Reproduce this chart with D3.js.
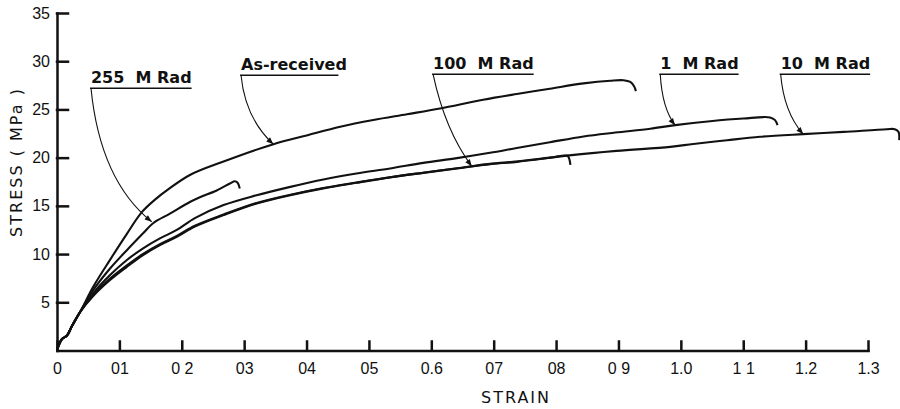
<!DOCTYPE html>
<html>
<head>
<meta charset="utf-8">
<script src="https://cdn.jsdelivr.net/npm/d3@7"></script>
<style>
  body { margin: 0; background: #fff; }
  svg { display: block; font-family: "DejaVu Sans", sans-serif; }
  .axis path, .axis line { stroke: #111; stroke-width: 2.5; stroke-linecap: square; }
  .axis text { font-size: 16px; fill: #111; }
  .curve { fill: none; stroke: #111; stroke-width: 2.1; stroke-linejoin: round; }
  .leader { fill: none; stroke: #111; stroke-width: 1.1; }
  .underline { stroke: #111; stroke-width: 1.4; }
  .note { font-size: 16px; font-weight: bold; fill: #111; }
  .title { font-size: 16px; fill: #111; letter-spacing: 2px; }
</style>
</head>
<body>
<div id="chart"></div>
<script>
// tick labels as printed on the figure
const xTickValues = [0, 0.1, 0.2, 0.3, 0.4, 0.5, 0.6, 0.7, 0.8, 0.9, 1.0, 1.1, 1.2, 1.3],
      xTickLabels = ["0", "01", "0 2", "03", "04", "05", "0.6", "07", "08", "0 9", "1.0", "1 1", "1.2", "1.3"],
      yTickValues = [5, 10, 15, 20, 25, 30, 35];

const strainAsReceived = [0, 0.0024, 0.008, 0.016, 0.024, 0.037, 0.058, 0.085, 0.112, 0.136, 0.160, 0.176, 0.213, 0.267, 0.347, 0.400, 0.454, 0.507, 0.561, 0.614, 0.683, 0.737, 0.790, 0.844, 0.887, 0.908, 0.919, 0.925, 0.928],
      stressAsReceived = [0, 0.47, 1.19, 1.55, 2.54, 3.99, 6.6, 9.4, 12.1, 14.35, 15.8, 16.6, 18.2, 19.6, 21.4, 22.3, 23.2, 23.9, 24.5, 25.1, 26.0, 26.6, 27.15, 27.7, 27.98, 28.03, 27.85, 27.4, 26.9];

const strain255 = [0, 0.0024, 0.008, 0.016, 0.024, 0.037, 0.058, 0.085, 0.112, 0.138, 0.154, 0.181, 0.213, 0.229, 0.256, 0.278, 0.285, 0.2895, 0.293],
      stress255 = [0, 0.47, 1.19, 1.55, 2.54, 3.99, 6.25, 8.5, 10.4, 12.15, 13.2, 14.2, 15.4, 15.9, 16.6, 17.35, 17.55, 17.4, 16.8];

const strain1 = [0, 0.0024, 0.008, 0.016, 0.024, 0.037, 0.058, 0.085, 0.112, 0.138, 0.165, 0.192, 0.221, 0.267, 0.320, 0.374, 0.427, 0.480, 0.534, 0.587, 0.641, 0.694, 0.737, 0.790, 0.844, 0.895, 0.951, 0.991, 1.047, 1.100, 1.143, 1.151, 1.155],
      stress1 = [0, 0.47, 1.19, 1.55, 2.54, 3.99, 5.93, 7.82, 9.38, 10.6, 11.63, 12.5, 13.73, 15.08, 16.1, 16.97, 17.74, 18.36, 18.88, 19.46, 19.95, 20.5, 21.0, 21.6, 22.2, 22.6, 23.0, 23.37, 23.78, 24.06, 24.17, 23.89, 23.37];

const strain10 = [0, 0.0024, 0.008, 0.016, 0.024, 0.037, 0.058, 0.085, 0.112, 0.138, 0.165, 0.192, 0.221, 0.267, 0.320, 0.374, 0.427, 0.480, 0.534, 0.587, 0.641, 0.694, 0.737, 0.825, 0.897, 0.983, 1.020, 1.074, 1.127, 1.196, 1.261, 1.330, 1.343, 1.349, 1.350],
      stress10 = [0, 0.47, 1.19, 1.55, 2.54, 3.99, 5.65, 7.31, 8.68, 9.9, 10.93, 11.79, 12.85, 14.04, 15.25, 16.11, 16.81, 17.39, 17.95, 18.42, 18.88, 19.33, 19.56, 20.26, 20.7, 21.12, 21.42, 21.81, 22.16, 22.44, 22.67, 22.95, 22.95, 22.67, 21.81];

const strain100 = [0, 0.0024, 0.008, 0.016, 0.024, 0.037, 0.058, 0.085, 0.112, 0.138, 0.165, 0.192, 0.221, 0.267, 0.320, 0.374, 0.427, 0.480, 0.534, 0.587, 0.641, 0.694, 0.737, 0.790, 0.818, 0.821, 0.823],
      stress100 = [0, 0.47, 1.19, 1.55, 2.54, 3.99, 5.75, 7.45, 8.82, 10.02, 11.03, 11.88, 12.93, 14.1, 15.3, 16.15, 16.85, 17.42, 17.97, 18.44, 18.9, 19.35, 19.6, 20.0, 20.2, 19.9, 19.25];

class StressStrainChart {
  constructor (options) {
    this.el = options.el;
    this.width = options.width;
    this.height = options.height;
    this.series = options.series;
    this.notes = options.notes;
    this.margin = options.margin || { top: 13, right: 32, bottom: 58.5, left: 57 };
  }

  draw () {
    this.svg = d3.select(this.el).append('svg')
      .attr('width', this.width)
      .attr('height', this.height);

    this.svg.append('defs').append('marker')
      .attr('id', 'arrow')
      .attr('viewBox', '0 0 10 10')
      .attr('refX', 10).attr('refY', 5)
      .attr('markerUnits', 'userSpaceOnUse')
      .attr('markerWidth', 9).attr('markerHeight', 7)
      .attr('orient', 'auto')
      .append('path')
      .attr('d', 'M0,1L10,5L0,9z')
      .attr('fill', '#111');

    this.createScales();
    this.addAxes();
    this.addCurves();
    this.addNotes();
  }

  createScales () {
    const m = this.margin;
    this.x = d3.scaleLinear()
      .domain([0, 1.3])
      .range([m.left, this.width - m.right]);
    this.y = d3.scaleLinear()
      .domain([0, 35])
      .range([this.height - m.bottom, m.top]);
  }

  addAxes () {
    const xAxis = d3.axisBottom(this.x)
      .tickValues(xTickValues)
      .tickFormat((d, i) => xTickLabels[i])
      .tickSizeInner(-9)
      .tickSizeOuter(0)
      .tickPadding(12);

    const yAxis = d3.axisLeft(this.y)
      .tickValues(yTickValues)
      .tickSizeInner(-11)
      .tickSizeOuter(0)
      .tickPadding(7);

    this.svg.append('g')
      .attr('class', 'x axis')
      .attr('transform', 'translate(0,' + this.y(0) + ')')
      .call(xAxis);

    this.svg.append('g')
      .attr('class', 'y axis')
      .attr('transform', 'translate(' + this.x(0) + ',0)')
      .call(yAxis);

    this.svg.append('text')
      .attr('class', 'title')
      .attr('x', 516).attr('y', 403)
      .attr('text-anchor', 'middle')
      .text('STRAIN');

    this.svg.append('text')
      .attr('class', 'title')
      .attr('transform', 'translate(21.5,162) rotate(-90)')
      .attr('text-anchor', 'middle')
      .text('STRESS ( MPa )');
  }

  addCurves () {
    const line = d3.line()
      .x((d) => this.x(d[0]))
      .y((d) => this.y(d[1]))
      .curve(d3.curveCatmullRom.alpha(0.5));

    this.svg.selectAll('path.curve')
      .data(this.series)
      .enter().append('path')
      .attr('class', 'curve')
      .attr('d', (s) => line(d3.zip(s.strain, s.stress)));
  }

  addNotes () {
    const g = this.svg.append('g').attr('class', 'notes');

    this.notes.forEach((n) => {
      const x0 = this.x(n.textStrain),
            y0 = this.y(n.lineStress),
            x2 = this.x(n.tipStrain),
            y2 = this.y(n.tipStress);

      const label = g.append('text')
        .attr('class', 'note')
        .attr('x', x0)
        .attr('y', y0 - 5.5)
        .attr('xml:space', 'preserve')
        .text(n.label);

      const box = label.node().getBBox();
      g.append('line')
        .attr('class', 'underline')
        .attr('x1', x0 - 1).attr('x2', box.x + box.width * n.lineFrac)
        .attr('y1', y0).attr('y2', y0);

      // curved leader from the underline down to the curve
      const cx = x0 + n.bend[0] * (x2 - x0),
            cy = y0 + n.bend[1] * (y2 - y0);
      g.append('path')
        .attr('class', 'leader')
        .attr('d', 'M' + x0 + ',' + y0 + 'Q' + cx + ',' + cy + ' ' + x2 + ',' + y2)
        .attr('marker-end', 'url(#arrow)');
    });
  }
}

const chart = new StressStrainChart({
  el: '#chart',
  width: 900,
  height: 409,
  series: [
    { name: 'As-received', strain: strainAsReceived, stress: stressAsReceived },
    { name: '255 M Rad', strain: strain255, stress: stress255 },
    { name: '1 M Rad', strain: strain1, stress: stress1 },
    { name: '10 M Rad', strain: strain10, stress: stress10 },
    { name: '100 M Rad', strain: strain100, stress: stress100 }
  ],
  notes: [
    { label: '255  M Rad', textStrain: 0.0545, lineStress: 27.2, tipStrain: 0.1518, tipStress: 13.35, bend: [0.15, 0.69], lineFrac: 1 },
    { label: 'As-received', textStrain: 0.295, lineStress: 28.55, tipStrain: 0.3467, tipStress: 21.4, bend: [0.125, 0.62], lineFrac: 0.92 },
    { label: '100  M Rad', textStrain: 0.6028, lineStress: 28.65, tipStrain: 0.6648, tipStress: 19.1, bend: [0.31, 0.61], lineFrac: 1 },
    { label: '1  M Rad', textStrain: 0.967, lineStress: 28.65, tipStrain: 0.9907, tipStress: 23.37, bend: [0.13, 0.67], lineFrac: 1 },
    { label: '10  M Rad', textStrain: 1.16, lineStress: 28.65, tipStrain: 1.196, tipStress: 22.44, bend: [0.14, 0.63], lineFrac: 1 }
  ]
});

chart.draw();
</script>
</body>
</html>
